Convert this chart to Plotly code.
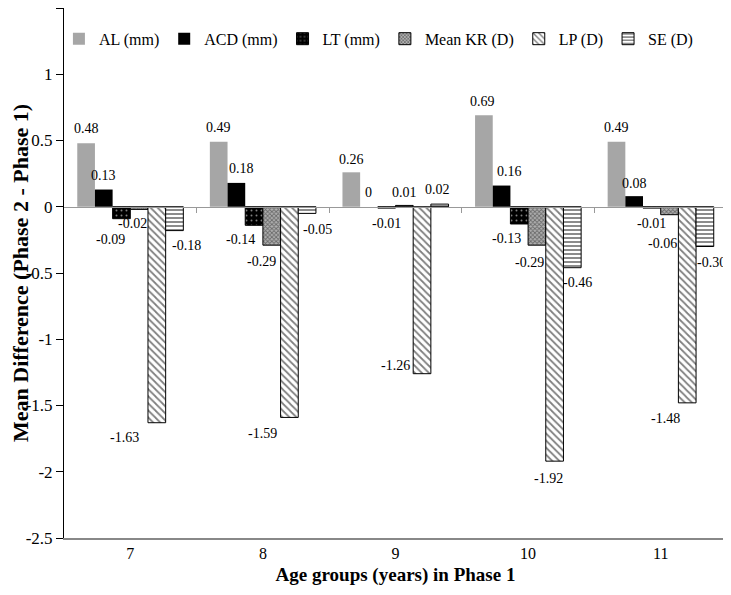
import plotly.graph_objects as go

# ---------------- data ----------------
age_groups = ["7", "8", "9", "10", "11"]
series_names = ["AL (mm)", "ACD (mm)", "LT (mm)", "Mean KR (D)", "LP (D)", "SE (D)"]
al = [0.48, 0.49, 0.26, 0.69, 0.49]
acd = [0.13, 0.18, 0.00, 0.16, 0.08]
lt = [-0.09, -0.14, -0.01, -0.13, -0.01]
mean_kr = [-0.02, -0.29, 0.01, -0.29, -0.06]
lp = [-1.63, -1.59, -1.26, -1.92, -1.48]
se = [-0.18, -0.05, 0.02, -0.46, -0.30]
y_tick_vals = [1.5, 1, 0.5, 0, -0.5, -1, -1.5, -2, -2.5]
y_tick_text = ["1.5", "1", "0.5", "0", "-0.5", "-1", "-1.5", "-2", "-2.5"]

series_values = [al, acd, lt, mean_kr, lp, se]

# ---------------- styles ----------------
FONT = "Liberation Serif"
styles = [
    dict(color="#a6a6a6", line=dict(width=0)),
    dict(color="black", line=dict(width=0)),
    dict(color="black", line=dict(color="black", width=1),
         pattern=dict(shape=".", fgcolor="white", size=5, solidity=0.12, fillmode="overlay")),
    dict(color="#b0b0b0", line=dict(color="black", width=1),
         pattern=dict(shape="x", fgcolor="#222222", size=3, solidity=0.5, fillmode="overlay")),
    dict(color="white", line=dict(color="black", width=1),
         pattern=dict(shape="\\", fgcolor="black", size=5, solidity=0.35, fillmode="overlay")),
    dict(color="white", line=dict(color="black", width=1),
         pattern=dict(shape="-", fgcolor="black", size=4, solidity=0.45, fillmode="overlay")),
]
# label nudges (pixels): horizontal shift, distance away from bar end
label_dx = [
    [0, 0, -11, -7, -32, 12],
    [0, 5, -14, -10, -27, 10],
    [0, 0, 0, 0, -27, -2],
    [-1, 8, -13, -7, -6, 5],
    [0, 0, 0, -7, -22, 7],
]
label_dy = [
    [15, 14, 21, 14, 15, 15],
    [14, 14, 14, 16, 16, 16],
    [13, 14, 15, 13, -8, 15],
    [14, 14, 15, 17, 17, 15],
    [14, 13, 15, 29, 16, 16],
]

xs = list(range(len(age_groups)))
fig = go.Figure()
for name, vals, st in zip(series_names, series_values, styles):
    fig.add_trace(go.Bar(x=xs, y=vals, name=name, marker=st))

# helper trace for the zero-crossing axis
fig.add_trace(go.Scatter(x=[None], y=[None], xaxis="x2", yaxis="y", showlegend=False,
                         hoverinfo="skip"))

nser = len(series_names)
bargap = 0.2
bw = (1 - bargap) / nser
annotations = []
for i in range(len(age_groups)):
    for j, vals in enumerate(series_values):
        v = vals[i]
        xc = i - (1 - bargap) / 2 + bw * (j + 0.5)
        sign = 1 if v >= 0 else -1
        annotations.append(dict(
            x=xc, y=v, xref="x", yref="y", text="0" if v == 0 else f"{v:.2f}",
            showarrow=False, xanchor="center", yanchor="middle",
            xshift=label_dx[i][j], yshift=sign * label_dy[i][j],
            font=dict(family=FONT, size=14, color="black")))

# the page body adds an 8px margin, so the figure is 8px smaller than the window
fig.update_layout(
    width=723, height=587,
    margin=dict(l=56, r=4, t=0, b=57, autoexpand=False),
    paper_bgcolor="white", plot_bgcolor="white",
    barmode="group", bargap=bargap, bargroupgap=0,
    font=dict(family=FONT, size=15, color="black"),
    showlegend=True,
    legend=dict(orientation="h", x=0.475, xanchor="center", y=0.974, yanchor="top",
                font=dict(family=FONT, size=16), bgcolor="rgba(0,0,0,0)",
                itemwidth=30, tracegroupgap=0),
    annotations=annotations,
    shapes=[dict(type="line", xref="paper", yref="paper", x0=1, x1=1, y0=0, y1=1,
                 line=dict(color="black", width=1))],
    xaxis=dict(range=[-0.5, len(age_groups) - 0.5], tickvals=xs, ticktext=age_groups,
               showline=True, linecolor="#888888", linewidth=2, ticks="",
               showgrid=False, zeroline=False, automargin=False,
               tickfont=dict(family=FONT, size=16),
               title=dict(text="<b>Age groups (years) in Phase 1</b>",
                          font=dict(family=FONT, size=19), standoff=6)),
    xaxis2=dict(range=[-0.5, len(age_groups) - 0.5], overlaying="x", anchor="free",
                position=2.5 / 4, side="bottom", showline=True, linecolor="#999999",
                linewidth=1, ticks="outside", ticklen=5, tickcolor="#999999",
                tickvals=[i + 0.5 for i in range(len(age_groups) - 1)],
                showticklabels=False, showgrid=False, zeroline=False, automargin=False),
    yaxis=dict(range=[-2.5, 1.5], tickvals=y_tick_vals, ticktext=y_tick_text,
               showline=True, linecolor="black", linewidth=1,
               ticks="outside", ticklen=7, tickcolor="black",
               showgrid=False, zeroline=False, automargin=False,
               tickfont=dict(family=FONT, size=17),
               title=dict(text="<b>Mean Difference (Phase 2 - Phase 1)</b>",
                          font=dict(family=FONT, size=22), standoff=4)),
)

fig.write_html("out.html")
